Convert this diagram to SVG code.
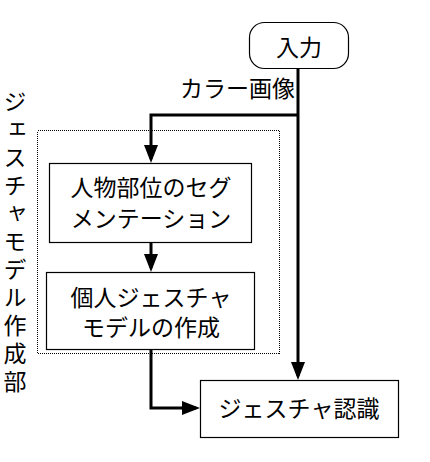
<svg xmlns="http://www.w3.org/2000/svg" width="430" height="462" viewBox="0 0 430 462">
<style>
.t{font-family:"Noto Sans CJK JP","Noto Sans",sans-serif;font-size:23px;fill:#000}
.box{fill:#fff;stroke:#000;stroke-width:1.2}
.con{fill:none;stroke:#000;stroke-width:3}
</style>
<defs>
<marker id="ah" markerUnits="userSpaceOnUse" markerWidth="18" markerHeight="14" refX="14" refY="7" orient="auto">
<path d="M0,0 L18,7 L0,14 z" fill="#000"/>
</marker>
</defs>
<rect width="430" height="462" fill="#fff"/>
<g id="group-frame">
<rect x="37.5" y="130.5" width="242" height="223" fill="none" stroke="#000" stroke-width="1" stroke-dasharray="1 1" shape-rendering="crispEdges"/>
<text class="t" x="15" y="90" style="writing-mode:vertical-rl;letter-spacing:5px" font-size="22">ジェスチャモデル作成部</text>
</g>
<g id="connectors">
<path class="con" d="M298,68 V376" marker-end="url(#ah)"/>
<path class="con" d="M298,115 H151 V159" marker-end="url(#ah)"/>
<path class="con" d="M151,242 V268" marker-end="url(#ah)"/>
<path class="con" d="M151,349 V408 H196" marker-end="url(#ah)"/>
<text class="t" x="295" y="97" text-anchor="end" font-size="24">カラー画像</text>
</g>
<g id="node-input">
<rect class="box" x="249.5" y="22.5" width="99" height="46" rx="15"/>
<text class="t" x="299" y="56" text-anchor="middle">入力</text>
</g>
<g id="node-segmentation">
<rect class="box" x="49.5" y="163.5" width="202" height="79"/>
<text class="t" x="151" y="196" text-anchor="middle">人物部位のセグ</text>
<text class="t" x="151" y="227" text-anchor="middle">メンテーション</text>
</g>
<g id="node-model">
<rect class="box" x="46.5" y="272.5" width="208" height="77"/>
<text class="t" x="151" y="306" text-anchor="middle">個人ジェスチャ</text>
<text class="t" x="151" y="336" text-anchor="middle">モデルの作成</text>
</g>
<g id="node-recognition">
<rect class="box" x="200.5" y="380.5" width="198" height="57"/>
<text class="t" x="299" y="417" text-anchor="middle" font-size="24">ジェスチャ認識</text>
</g>
</svg>
